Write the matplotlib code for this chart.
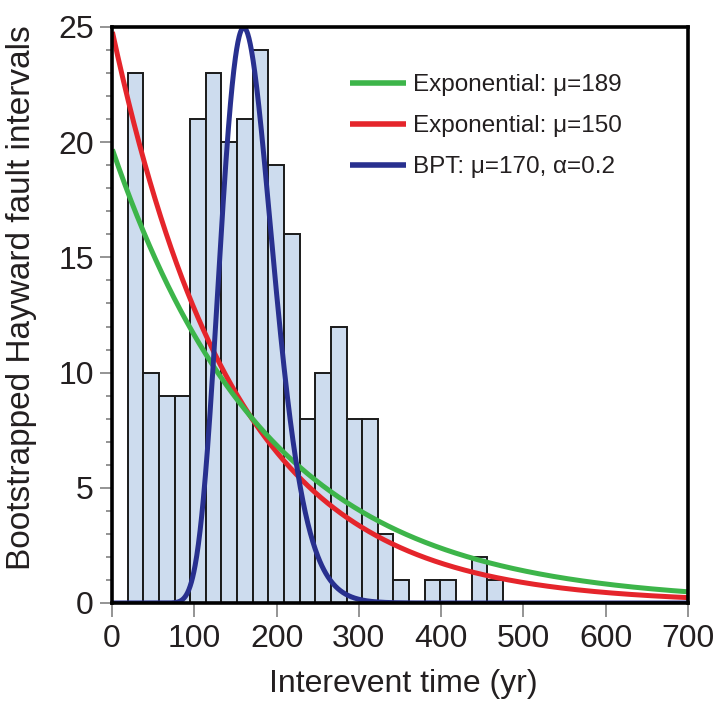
import numpy as np
import matplotlib
matplotlib.use("Agg")
import matplotlib.pyplot as plt
from matplotlib.ticker import MultipleLocator

# ---- data ----
bin_start = 19          # yr, left edge of first bin
bin_width = 19          # yr
counts = [23, 10, 9, 9, 21, 23, 20, 21, 24, 19, 16, 8,
          10, 12, 8, 8, 3, 1, 0, 1, 1, 0, 2, 1]

exp_means = [189, 150]               # yr
exp_labels = ["Exponential: \u03bc=189", "Exponential: \u03bc=150"]
exp_scale = 3730                      # counts * yr
bpt_mean = 170
bpt_alpha = 0.2
bpt_label = "BPT: \u03bc=170, \u03b1=0.2"
bpt_scale = 2035

x_ticks = [0, 100, 200, 300, 400, 500, 600, 700]
y_ticks = [0, 5, 10, 15, 20, 25]

GREEN = "#3db54a"
RED = "#e5252b"
BLUE = "#28308f"
BAR = "#cddcee"
TXT = "#231f20"

plt.rcParams['font.family'] = ['Liberation Sans', 'DejaVu Sans']
plt.rcParams['text.color'] = TXT
plt.rcParams['axes.labelcolor'] = TXT
plt.rcParams['xtick.labelcolor'] = TXT
plt.rcParams['ytick.labelcolor'] = TXT

fig = plt.figure(figsize=(7.21, 7.04), dpi=100)
ax = fig.add_axes([112/721, 1-603/704, 576/721, 576/704])

edges = bin_start + bin_width*np.arange(len(counts)+1)
ax.bar(edges[:-1], counts, width=bin_width, align='edge', color=BAR,
       edgecolor='#1a1a1a', linewidth=1.4, zorder=2)

t = np.linspace(0.5, 700, 1400)
exp_green = exp_scale/exp_means[0]*np.exp(-t/exp_means[0])
exp_red = exp_scale/exp_means[1]*np.exp(-t/exp_means[1])
bpt = np.sqrt(bpt_mean/(2*np.pi*bpt_alpha**2*t**3)) * \
    np.exp(-(t-bpt_mean)**2/(2*bpt_mean*bpt_alpha**2*t))
bpt = bpt_scale*bpt

lr, = ax.plot(t, exp_red, color=RED, lw=3.6, zorder=3, solid_capstyle='butt')
lg, = ax.plot(t, exp_green, color=GREEN, lw=3.6, zorder=3.1, solid_capstyle='butt')
lb, = ax.plot(t, bpt, color=BLUE, lw=3.6, zorder=4, solid_capstyle='butt')

ax.set_xlim(0, 700)
ax.set_ylim(0, 25)
ax.set_xticks(x_ticks)
ax.set_yticks(y_ticks)
ax.yaxis.set_minor_locator(MultipleLocator(1))
ax.tick_params(axis='both', which='major', direction='out', color='#777777',
               width=1.1, labelsize=23)
ax.tick_params(axis='x', which='major', length=10, pad=5)
ax.tick_params(axis='y', which='major', length=9, pad=4)
ax.tick_params(axis='y', which='minor', direction='out', length=4.5,
               color='#777777', width=1.1)
for s in ax.spines.values():
    s.set_linewidth(2.6)
    s.set_color('black')
    s.set_zorder(5)

ax.set_xlabel("Interevent time (yr)", fontsize=23)
ax.set_ylabel("Bootstrapped Hayward fault intervals", fontsize=24)
ax.xaxis.set_label_coords(0.505, -0.115)
ax.yaxis.set_label_coords(-0.13, 0.53)

leg = ax.legend([lg, lr, lb], [exp_labels[0], exp_labels[1], bpt_label],
                loc='upper left', bbox_to_anchor=(0.413, 0.918),
                frameon=False, fontsize=17.5, handlelength=2.3,
                handletextpad=0.3, labelspacing=0.78, borderpad=0,
                borderaxespad=0)
for h in leg.get_lines():
    h.set_linewidth(4)

fig.savefig("out.png", dpi=100)
